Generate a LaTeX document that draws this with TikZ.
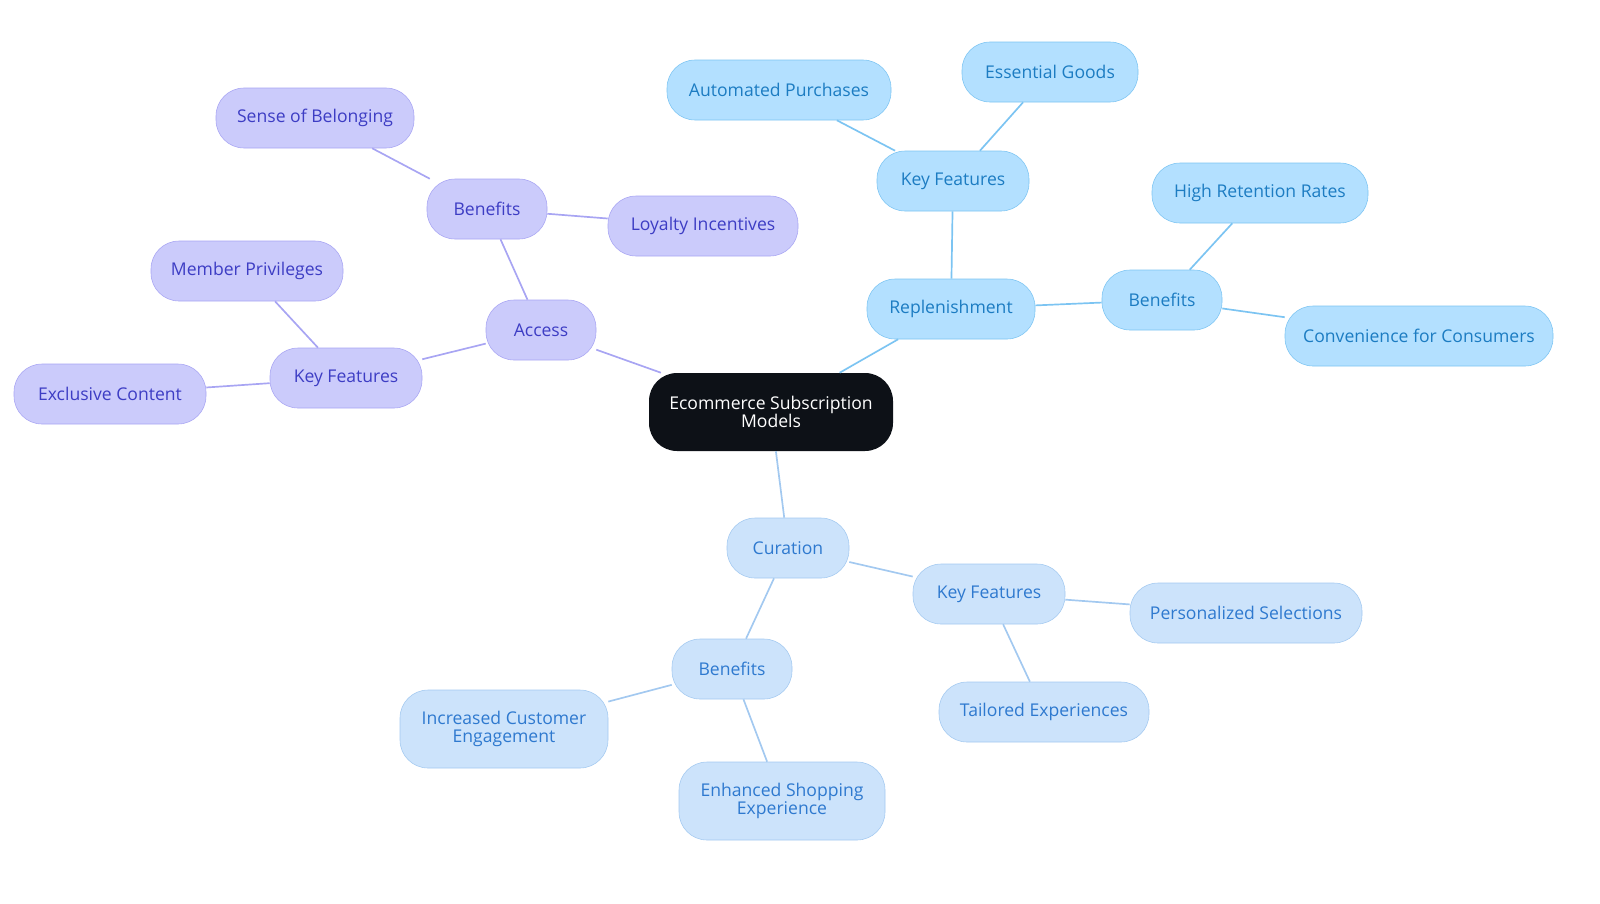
\documentclass[tikz,border=0pt]{standalone}
\usepackage{fontspec}
\setmainfont{Open Sans}
\definecolor{centerfill}{HTML}{0D1117}
\definecolor{accfill}{HTML}{CBCBFB}\definecolor{accline}{HTML}{A8A5F3}\definecolor{acctext}{HTML}{3D3DC4}
\definecolor{repfill}{HTML}{B3E0FF}\definecolor{repline}{HTML}{7CC4F2}\definecolor{reptext}{HTML}{1C7CC2}
\definecolor{curfill}{HTML}{CCE3FB}\definecolor{curline}{HTML}{A3C9F0}\definecolor{curtext}{HTML}{2E79CF}
\tikzset{
  box/.style={rounded corners=0.7cm, align=center, inner sep=0pt, font=\fontsize{12.5}{13}\selectfont},
  acc/.style={box, fill=accfill, draw=accline, text=acctext},
  rep/.style={box, fill=repfill, draw=repline, text=reptext},
  cur/.style={box, fill=curfill, draw=curline, text=curtext},
  sz/.style 2 args={minimum width=#1*0.025cm, minimum height=#2*0.025cm},
}
\begin{document}
\begin{tikzpicture}[x=0.025cm,y=-0.025cm]
\useasboundingbox (0,0) rectangle (1600,903);

% Center
\node[box, fill=centerfill, text=white, sz={244}{78}] (root) at (771,412) {Ecommerce Subscription\\Models};

% Access branch
\node[acc, sz={110}{60}] (acc) at (541,330) {Access};
\node[acc, sz={120}{60}] (accben) at (487,209) {Benefits};
\node[acc, sz={198}{60}] (belong) at (315,118) {Sense of Belonging};
\node[acc, sz={190}{60}] (loyal) at (703,226) {Loyalty Incentives};
\node[acc, sz={152}{60}] (acckey) at (346,378) {Key Features};
\node[acc, sz={192}{60}] (member) at (247,271) {Member Privileges};
\node[acc, sz={192}{60}] (exclus) at (110,394) {Exclusive Content};

% Replenishment branch
\node[rep, sz={168}{60}] (rep) at (951,309) {Replenishment};
\node[rep, sz={152}{60}] (repkey) at (953,181) {Key Features};
\node[rep, sz={224}{60}] (auto) at (779,90) {Automated Purchases};
\node[rep, sz={176}{60}] (essen) at (1050,72) {Essential Goods};
\node[rep, sz={120}{60}] (repben) at (1162,300) {Benefits};
\node[rep, sz={216}{60}] (retain) at (1260,193) {High Retention Rates};
\node[rep, sz={268}{60}] (conv) at (1419,336) {Convenience for Consumers};

% Curation branch
\node[cur, sz={122}{60}] (cur) at (788,548) {Curation};
\node[cur, sz={152}{60}] (curkey) at (989,594) {Key Features};
\node[cur, sz={232}{60}] (perso) at (1246,613) {Personalized Selections};
\node[cur, sz={210}{60}] (tailor) at (1044,712) {Tailored Experiences};
\node[cur, sz={120}{60}] (curben) at (732,669) {Benefits};
\node[cur, sz={208}{78}] (engage) at (504,729) {Increased Customer\\Engagement};
\node[cur, sz={206}{78}] (shop) at (782,801) {Enhanced Shopping\\Experience};

% Connectors
\begin{scope}[on background layer/.style={}, line width=1.2pt]
\foreach \a/\b in {root/acc,acc/accben,accben/belong,accben/loyal,acc/acckey,acckey/member,acckey/exclus}
  \draw[accline] (\a) -- (\b);
\foreach \a/\b in {root/rep,rep/repkey,repkey/auto,repkey/essen,rep/repben,repben/retain,repben/conv}
  \draw[repline] (\a) -- (\b);
\foreach \a/\b in {root/cur,cur/curkey,curkey/perso,curkey/tailor,cur/curben,curben/engage,curben/shop}
  \draw[curline] (\a) -- (\b);
\end{scope}
\end{tikzpicture}
\end{document}
